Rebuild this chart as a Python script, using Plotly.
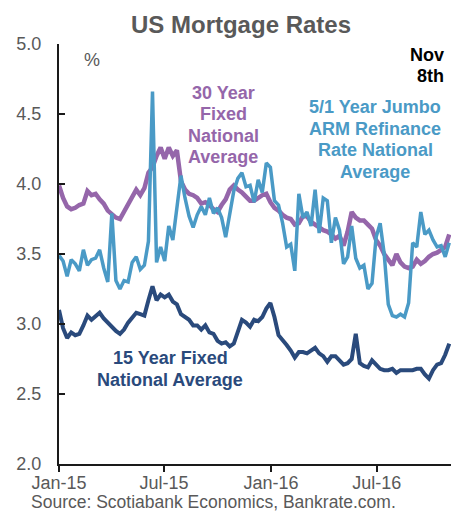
import pandas as pd
import plotly.graph_objects as go

# weekly observation dates
dates = pd.date_range(start="2015-01-01", periods=97, freq="7D")

fixed30 = [3.99, 3.90, 3.84, 3.82, 3.83, 3.85, 3.86, 3.95, 3.92, 3.93,
           3.89, 3.86, 3.81, 3.78, 3.76, 3.75, 3.80, 3.86, 3.91, 3.96,
           3.92, 3.97, 4.08, 4.12, 4.20, 4.26, 4.18, 4.26, 4.20, 4.24,
           4.02, 3.96, 3.93, 3.92, 3.90, 3.86, 3.87, 3.85, 3.82, 3.80,
           3.85, 3.89, 3.96, 3.99, 3.96, 3.94, 3.91, 3.88, 3.88, 3.90,
           3.92, 3.93, 3.87, 3.83, 3.81, 3.78, 3.76, 3.75, 3.71, 3.72,
           3.77, 3.77, 3.73, 3.71, 3.69, 3.67, 3.66, 3.64, 3.61, 3.63,
           3.56, 3.66, 3.80, 3.76, 3.74, 3.74, 3.71, 3.68, 3.60, 3.56,
           3.50, 3.46, 3.42, 3.50, 3.44, 3.41, 3.40, 3.41, 3.46, 3.43,
           3.45, 3.48, 3.50, 3.51, 3.53, 3.55, 3.64]

fixed15 = [3.10, 2.97, 2.90, 2.94, 2.92, 2.93, 2.99, 3.06, 3.03, 3.06,
           3.08, 3.04, 3.01, 2.97, 2.95, 2.93, 2.96, 3.01, 3.05, 3.08,
           3.07, 3.06, 3.17, 3.27, 3.17, 3.21, 3.19, 3.21, 3.16, 3.14,
           3.07, 3.05, 3.03, 2.99, 2.99, 2.96, 2.99, 2.94, 2.93, 2.88,
           2.86, 2.87, 2.84, 2.86, 2.95, 3.03, 3.01, 2.98, 3.03, 3.02,
           3.05, 3.11, 3.15, 3.05, 2.92, 2.89, 2.85, 2.81, 2.76, 2.80,
           2.80, 2.79, 2.81, 2.83, 2.79, 2.77, 2.73, 2.77, 2.77, 2.74,
           2.71, 2.72, 2.75, 2.93, 2.72, 2.70, 2.69, 2.74, 2.71, 2.68,
           2.67, 2.67, 2.68, 2.65, 2.67, 2.67, 2.67, 2.67, 2.68, 2.68,
           2.64, 2.61, 2.67, 2.71, 2.72, 2.78, 2.86]

jumbo_arm = [3.49, 3.45, 3.34, 3.46, 3.43, 3.38, 3.53, 3.42, 3.46, 3.47,
             3.53, 3.40, 3.30, 3.79, 3.31, 3.25, 3.31, 3.30, 3.44, 3.48,
             3.39, 3.42, 3.59, 4.66, 3.44, 3.55, 3.45, 3.70, 3.60, 3.85,
             4.06, 3.90, 3.77, 3.69, 3.78, 3.84, 3.78, 3.90, 3.79, 3.83,
             3.76, 3.62, 3.80, 3.95, 4.04, 4.08, 3.98, 3.99, 3.87, 4.03,
             3.94, 4.15, 4.12, 3.88, 3.85, 3.72, 3.55, 3.57, 3.38, 3.93,
             3.76, 3.80, 3.70, 3.96, 3.65, 3.90, 3.88, 3.58, 3.76, 3.67,
             3.43, 3.48, 3.70, 3.47, 3.40, 3.42, 3.25, 3.29, 3.62, 3.72,
             3.50, 3.14, 3.06, 3.05, 3.07, 3.05, 3.15, 3.58, 3.55, 3.80,
             3.64, 3.67, 3.60, 3.55, 3.56, 3.48, 3.58]

tick_dates = ["2015-01-01", "2015-07-01", "2016-01-01", "2016-07-01"]
tick_labels = ["Jan-15", "Jul-15", "Jan-16", "Jul-16"]
y_ticks = [2.0, 2.5, 3.0, 3.5, 4.0, 4.5, 5.0]

label_30 = ["30 Year", "Fixed", "National", "Average"]
label_arm = ["5/1 Year Jumbo", "ARM Refinance", "Rate National", "Average"]
label_15 = ["15 Year Fixed", "National Average"]
label_date = ["Nov", "8th"]

PURPLE = "#9566AA"
BLUE = "#4A9AC6"
NAVY = "#2A4A7C"
GRAY = "#595959"
FONT = "Liberation Sans, Arial, sans-serif"

fig = go.Figure()
fig.add_trace(go.Scatter(x=dates, y=fixed30, mode="lines",
                         line=dict(color=PURPLE, width=4.5), name="30 Year Fixed"))
fig.add_trace(go.Scatter(x=dates, y=fixed15, mode="lines",
                         line=dict(color=NAVY, width=4), name="15 Year Fixed"))
fig.add_trace(go.Scatter(x=dates, y=jumbo_arm, mode="lines",
                         line=dict(color=BLUE, width=3.5), name="5/1 Jumbo ARM"))

W, H = 451, 512
L, R, T, B = 59, 0, 44, 48
pw, ph = W - L - R, H - T - B


def px(x):
    return (x - L) / pw


def py(y):
    return (H - B - y) / ph


def add_text(text, x, y, color, bold, xanchor, size=18):
    txt = f"<b>{text}</b>" if bold else text
    fig.add_annotation(text=txt, x=px(x), y=py(y), xref="paper", yref="paper",
                       xanchor=xanchor, yanchor="middle", showarrow=False,
                       font=dict(family=FONT, size=size, color=color))


for i, s in enumerate(label_30):
    add_text(s, 223, 93 + 21.3 * i, PURPLE, True, "center")
for i, s in enumerate(label_arm):
    add_text(s, 375, 107 + 21.5 * i, BLUE, True, "center")
for i, s in enumerate(label_15):
    add_text(s, 170, 358 + 22 * i, NAVY, True, "center")
for i, s in enumerate(label_date):
    add_text(s, 446, 55 + 21 * i, "#000000", True, "right")
add_text("%", 92, 60, GRAY, False, "center")
add_text("Source: Scotiabank Economics, Bankrate.com.", 29, 502.5, GRAY, False, "left", 17.5)

fig.update_layout(
    width=W, height=H,
    margin=dict(l=L, r=R, t=T, b=B),
    paper_bgcolor="white", plot_bgcolor="white",
    showlegend=False,
    font=dict(family=FONT, size=18, color=GRAY),
    title=dict(text="<b>US Mortgage Rates</b>", x=241 / W, xanchor="center",
               y=1 - 25 / H, yanchor="middle",
               font=dict(family=FONT, size=24, color=GRAY)),
    xaxis=dict(range=["2015-01-01", "2016-11-06"], tickvals=tick_dates, ticktext=tick_labels,
               showgrid=False, zeroline=False, showline=True, linecolor="#1a1a1a", linewidth=2,
               ticks="outside", ticklen=6, tickwidth=2, tickcolor="#1a1a1a",
               ticklabelstandoff=-5,
               tickfont=dict(family=FONT, size=18, color=GRAY)),
    yaxis=dict(range=[2.0, 5.0], tickvals=y_ticks, tickformat=".1f",
               showgrid=False, zeroline=False, showline=True, linecolor="#1a1a1a", linewidth=2,
               ticks="inside", ticklen=6, tickwidth=2, tickcolor="#1a1a1a",
               ticklabelstandoff=12,
               tickfont=dict(family=FONT, size=18, color=GRAY)),
)

fig.write_html("out.html", config={"displayModeBar": False},
               post_script="document.body.style.margin='0';document.body.style.overflow='hidden';")
